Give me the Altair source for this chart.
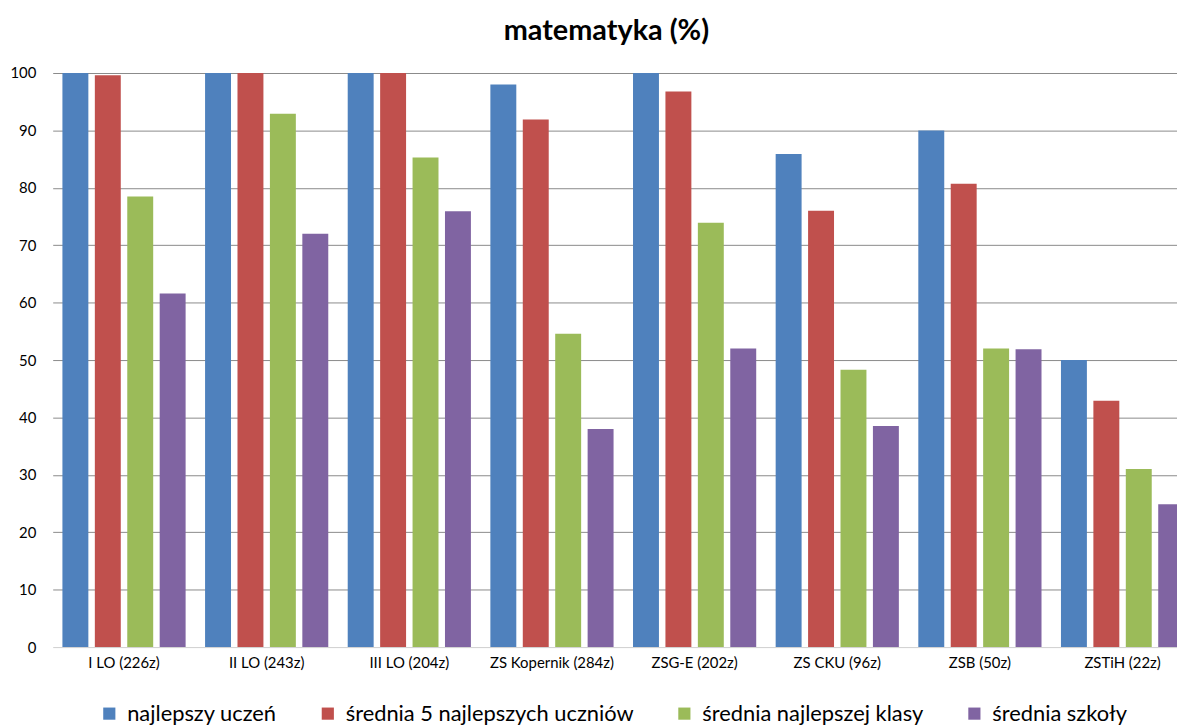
import altair as alt
import pandas as pd

schools = ["I LO (226z)", "II LO (243z)", "III LO (204z)", "ZS Kopernik (284z)",
           "ZSG-E (202z)", "ZS CKU (96z)", "ZSB (50z)", "ZSTiH (22z)"]
series = ["najlepszy uczeń", "średnia 5 najlepszych uczniów",
          "średnia najlepszej klasy", "średnia szkoły"]
colors = ["#4F81BD", "#C0504D", "#9BBB59", "#8064A2"]

best_student = [100, 100, 100, 98.0, 100, 85.9, 90.0, 50.0]
top5_avg = [99.6, 100, 100, 91.9, 96.8, 76.0, 80.7, 42.9]
best_class = [78.5, 92.9, 85.3, 54.6, 73.9, 48.3, 52.0, 31.0]
school_avg = [61.6, 72.0, 75.9, 38.0, 52.0, 38.5, 51.9, 24.9]
y_ticks = [0, 10, 20, 30, 40, 50, 60, 70, 80, 90, 100]

rows = []
for name, vals in zip(series, [best_student, top5_avg, best_class, school_avg]):
    for s, v in zip(schools, vals):
        rows.append({"szkola": s, "seria": name, "wartosc": v})
df = pd.DataFrame(rows)

FONT = "Lato"

chart = alt.Chart(df).mark_bar().encode(
    x=alt.X("szkola:N", sort=schools, title=None,
            scale=alt.Scale(paddingInner=0, paddingOuter=0),
            axis=alt.Axis(labelAngle=0, ticks=False, domain=False, labelPadding=9,
                          labelFontSize=15, labelColor="#000000", labelFont=FONT)),
    xOffset=alt.XOffset("seria:N", sort=series,
                        scale=alt.Scale(paddingInner=0.2, paddingOuter=0.3)),
    y=alt.Y("wartosc:Q", title=None,
            scale=alt.Scale(domain=[0, 100], nice=False),
            axis=alt.Axis(values=y_ticks, ticks=False, domain=False, labelPadding=17,
                          labelFontSize=15, labelColor="#000000", labelFont=FONT,
                          gridColor={"condition": {"test": "datum.value === 0", "value": "#d0d0d0"},
                                     "value": "#8a8a8a"},
                          gridWidth=1)),
    color=alt.Color("seria:N", sort=series,
                    scale=alt.Scale(domain=series, range=colors),
                    legend=alt.Legend(orient="none", direction="horizontal",
                                      legendX=46, legendY=634, title=None,
                                      symbolType="square", symbolSize=150,
                                      symbolStrokeWidth=0, labelFontSize=22,
                                      labelFont=FONT, labelColor="#000000",
                                      labelLimit=0,
                                      columnPadding=40, labelOffset=7)),
).properties(
    width=1149,
    height=578,
    title=alt.TitleParams("matematyka (%)", fontSize=29, font=FONT, fontWeight="bold",
                          anchor="middle", dx=-17, offset=20, color="#000000"),
    autosize=alt.AutoSizeParams(type="none"),
    padding={"left": 45, "top": 63, "right": -17, "bottom": 78},
).configure_view(stroke=None)

chart.save("out.html", embed_options={"renderer": "svg", "actions": False})
